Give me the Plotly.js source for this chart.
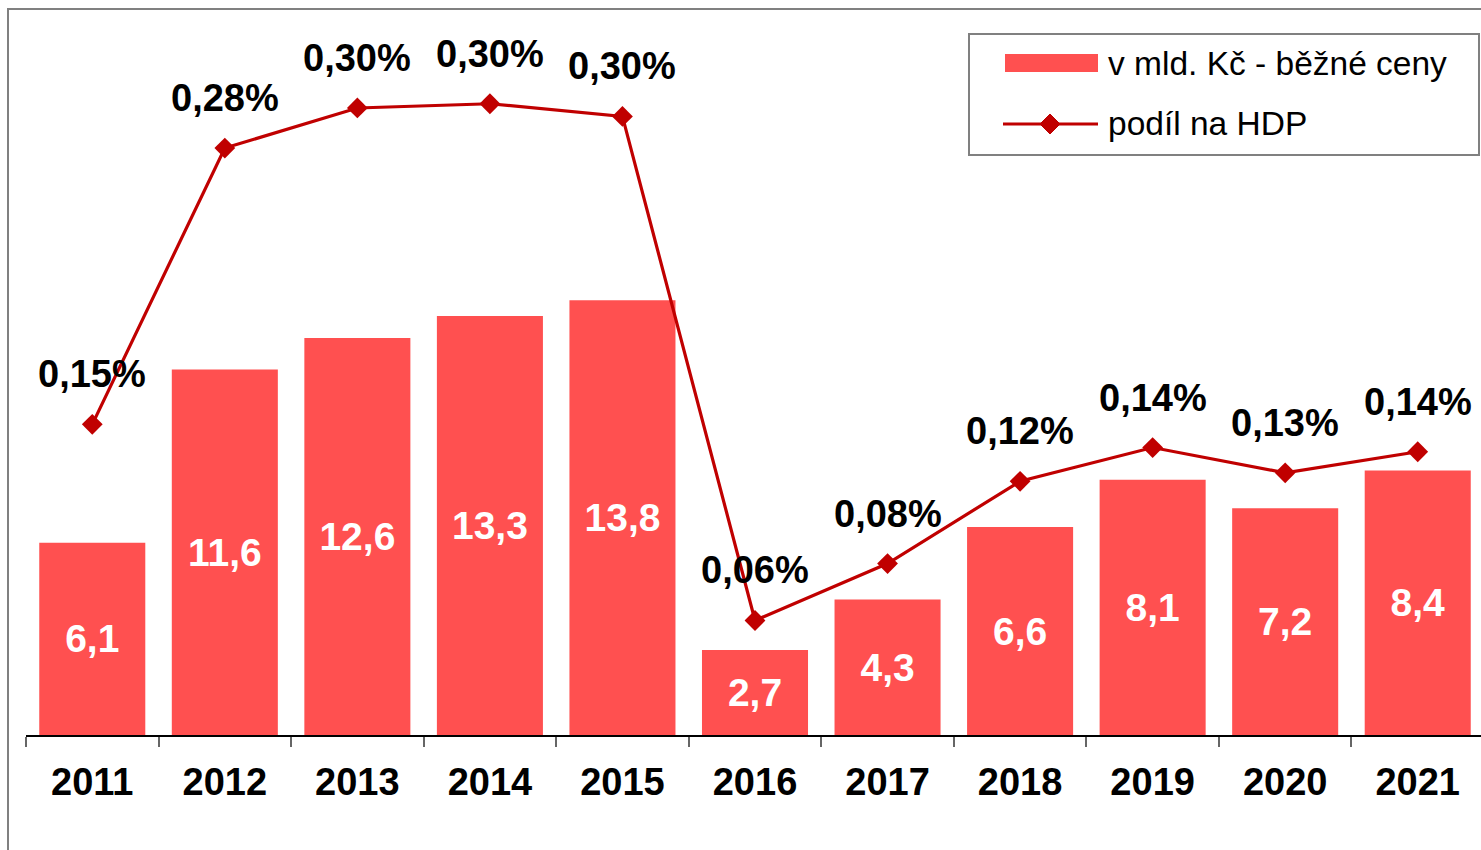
<!DOCTYPE html>
<html>
<head>
<meta charset="utf-8">
<script src="https://cdn.plot.ly/plotly-3.0.1.min.js"></script>
<style>
  html, body { margin: 0; padding: 0; background: #fff; overflow: hidden; }
  #wrap { position: relative; width: 1481px; height: 850px; overflow: hidden; }
  #chart { position: absolute; left: 0; top: 0; }
  #frame { position: absolute; left: 7px; top: 8px; width: 1600px; height: 900px;
           border-left: 2px solid #808080; border-top: 2px solid #808080; pointer-events: none; }
</style>
</head>
<body>
<div id="wrap">
  <div id="chart"></div>
  <div id="frame"></div>
</div>
<script>
// ---- data ----
const years = ['2011', '2012', '2013', '2014', '2015', '2016', '2017', '2018', '2019', '2020', '2021'];
const spendingBnCZK = [6.1, 11.6, 12.6, 13.3, 13.8, 2.7, 4.3, 6.6, 8.1, 7.2, 8.4];
const gdpSharePct = [0.150, 0.281, 0.300, 0.302, 0.296, 0.057, 0.084, 0.123, 0.139, 0.127, 0.137];
const barLegendName = 'v mld. Kč - běžné ceny';
const lineLegendName = 'podíl na HDP';

// ---- layout geometry (pixels) ----
const W = 1484, H = 850;
const M = { l: 26, r: 0, t: 8, b: 115 };
const plotW = W - M.l - M.r, plotH = H - M.t - M.b;
const px = x => (x - M.l) / plotW;          // pixel -> paper x
const py = y => (H - M.b - y) / plotH;      // pixel -> paper y

const RED = '#FF5050';
const DARKRED = '#C00000';
const FONT = 'Liberation Sans, Arial, sans-serif';

const shareLabels = gdpSharePct.map(v => v.toFixed(2).replace('.', ',') + '%');

const traces = [
  {
    type: 'bar',
    x: years,
    y: spendingBnCZK,
    name: barLegendName,
    marker: { color: RED },
    texttemplate: '%{y:.1f}',
    textposition: 'inside',
    insidetextanchor: 'middle',
    textangle: 0,
    constraintext: 'none',
    textfont: { family: FONT, size: 39, color: '#ffffff', weight: 'bold' },
    hoverinfo: 'skip'
  },
  {
    type: 'scatter',
    mode: 'lines+markers',
    x: years,
    y: gdpSharePct,
    yaxis: 'y2',
    name: lineLegendName,
    line: { color: DARKRED, width: 3.2 },
    marker: { symbol: 'diamond', size: 16, color: DARKRED },
    hoverinfo: 'skip'
  }
];

// labels above the line points (x given as category index)
const annotations = years.map((yr, i) => ({
  x: i, y: gdpSharePct[i], xref: 'x', yref: 'y2',
  text: shareLabels[i], showarrow: false, yshift: 50,
  xanchor: 'center', yanchor: 'middle',
  font: { family: FONT, size: 38, color: '#000', weight: 'bold' }
}));

// custom legend
const legendTexts = [barLegendName, lineLegendName];
annotations.push(
  { xref: 'paper', yref: 'paper', x: px(1106), y: py(63), text: legendTexts[0], showarrow: false,
    xanchor: 'left', yanchor: 'middle', font: { family: FONT, size: 33.5, color: '#000' } },
  { xref: 'paper', yref: 'paper', x: px(1106), y: py(123), text: legendTexts[1], showarrow: false,
    xanchor: 'left', yanchor: 'middle', font: { family: FONT, size: 33.5, color: '#000' } }
);

const dcx = 1050, dcy = 124, dr = 10;
const shapes = [
  { type: 'rect', xref: 'paper', yref: 'paper', x0: px(969), x1: px(1479), y0: py(34), y1: py(155),
    line: { color: '#808080', width: 2 }, fillcolor: '#ffffff', layer: 'below' },
  { type: 'rect', xref: 'paper', yref: 'paper', x0: px(1005), x1: px(1098), y0: py(54), y1: py(72),
    line: { width: 0 }, fillcolor: RED },
  { type: 'line', xref: 'paper', yref: 'paper', x0: px(1003), x1: px(1098), y0: py(124), y1: py(124),
    line: { color: DARKRED, width: 3 } },
  { type: 'path', xref: 'paper', yref: 'paper',
    path: `M${px(dcx)},${py(dcy - dr)} L${px(dcx + dr)},${py(dcy)} L${px(dcx)},${py(dcy + dr)} L${px(dcx - dr)},${py(dcy)} Z`,
    fillcolor: DARKRED, line: { color: DARKRED, width: 1 } }
];

const layout = {
  width: W, height: H,
  margin: M,
  paper_bgcolor: '#ffffff', plot_bgcolor: '#ffffff',
  separators: ',.',
  showlegend: false,
  bargap: 0.2,
  font: { family: FONT, color: '#000' },
  xaxis: {
    type: 'category',
    range: [-0.5, years.length - 0.5],
    showline: true, linecolor: '#000', linewidth: 2,
    ticks: 'outside', tickson: 'boundaries', ticklen: 10, tickwidth: 2, tickcolor: '#666',
    ticklabelstandoff: 12,
    tickangle: 0,
    tickfont: { family: FONT, size: 38, color: '#000', weight: 'bold' },
    showgrid: false, zeroline: false, fixedrange: true
  },
  yaxis: { range: [0, 23.08], visible: false, showgrid: false, zeroline: false, fixedrange: true },
  yaxis2: { range: [0.0027, 0.3474], overlaying: 'y', side: 'right', visible: false,
            showgrid: false, zeroline: false, fixedrange: true },
  annotations: annotations,
  shapes: shapes
};

Plotly.newPlot('chart', traces, layout, { displayModeBar: false, staticPlot: true });
</script>
</body>
</html>
